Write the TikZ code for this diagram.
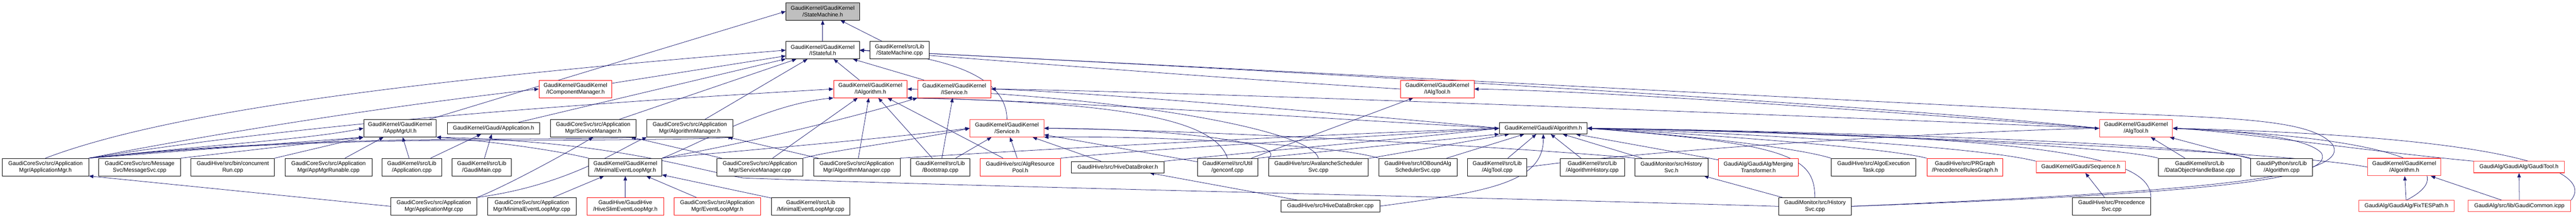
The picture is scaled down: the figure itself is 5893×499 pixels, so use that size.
\documentclass[tikz,border=0pt]{standalone}
\usepackage{fontspec}
\setmainfont{Liberation Sans}
\usetikzlibrary{arrows.meta}
\pgfdeclarelayer{bg}
\pgfsetlayers{bg,main}
\definecolor{edgec}{HTML}{191970}
\definecolor{grayfill}{HTML}{BFBFBF}
\definecolor{redA}{HTML}{FF0000}
\definecolor{redB}{HTML}{FF4040}
\tikzset{
  box/.style={draw=black, line width=1pt, rectangle, inner sep=0pt, align=center, fill=white,
              font=\fontsize{12.8}{15}\selectfont, minimum height=40pt},
  box1/.style={box, minimum height=26pt},
  rbox/.style={box, draw=redA},
  rbox1/.style={box1, draw=redA},
  pbox/.style={box, draw=redB, line width=1.3pt},
  pbox1/.style={box1, draw=redB, line width=1.3pt},
  edge/.style={draw=edgec, line width=0.9pt, -{Triangle[length=10pt,width=8pt]}},
  w/.style={minimum width=#1pt}
}
\begin{document}
\begin{tikzpicture}[x=1pt,y=-1pt]
\useasboundingbox (0,0) rectangle (5893,499);
% row 0
\node[box, w=168, fill=grayfill] (sm) at (1882,26) {GaudiKernel/GaudiKernel\\/StateMachine.h};
% row 1
\node[box, w=168] (istf) at (1882,115) {GaudiKernel/GaudiKernel\\/IStateful.h};
\node[box, w=136] (smcpp) at (2058,115) {GaudiKernel/src/Lib\\/StateMachine.cpp};
% row 2
\node[rbox, w=167] (icm) at (1316.5,204) {GaudiKernel/GaudiKernel\\/IComponentManager.h};
\node[rbox, w=168] (ialg) at (1991,204) {GaudiKernel/GaudiKernel\\/IAlgorithm.h};
\node[rbox, w=168] (isvc) at (2183,204) {GaudiKernel/GaudiKernel\\/IService.h};
\node[rbox, w=168] (ialgt) at (3288,204) {GaudiKernel/GaudiKernel\\/IAlgTool.h};
% row 3
\node[box, w=166] (iappui) at (915,294) {GaudiKernel/GaudiKernel\\/IAppMgrUI.h};
\node[box1, w=210] (gapp) at (1129,294) {GaudiKernel/Gaudi/Application.h};
\node[box, w=196] (svcmh) at (1357,294) {GaudiCoreSvc/src/Application\\Mgr/ServiceManager.h};
\node[box, w=196] (algmh) at (1578,294) {GaudiCoreSvc/src/Application\\Mgr/AlgorithmManager.h};
\node[pbox, w=169] (svch) at (2303.5,294) {GaudiKernel/GaudiKernel\\/Service.h};
\node[box1, w=201] (galgh) at (3530.5,294) {GaudiKernel/Gaudi/Algorithm.h};
\node[pbox, w=167] (algtoolh) at (4886.5,294) {GaudiKernel/GaudiKernel\\/AlgTool.h};
% row 4
\node[box, w=198] (appmgrh) at (104,383) {GaudiCoreSvc/src/Application\\Mgr/ApplicationMgr.h};
\node[box, w=187] (msgsvc) at (319.5,383) {GaudiCoreSvc/src/Message\\Svc/MessageSvc.cpp};
\node[box, w=191] (crun) at (532.5,383) {GaudiHive/src/bin/concurrent\\Run.cpp};
\node[box, w=199] (amrun) at (751.5,383) {GaudiCoreSvc/src/Application\\Mgr/AppMgrRunable.cpp};
\node[box, w=136] (appcpp) at (942,383) {GaudiKernel/src/Lib\\/Application.cpp};
\node[box, w=136] (gmain) at (1102,383) {GaudiKernel/src/Lib\\/GaudiMain.cpp};
\node[box, w=167] (melmh) at (1430.5,383) {GaudiKernel/GaudiKernel\\/MinimalEventLoopMgr.h};
\node[box, w=197] (svcmcpp) at (1738.5,383) {GaudiCoreSvc/src/Application\\Mgr/ServiceManager.cpp};
\node[box, w=198] (algmcpp) at (1960,383) {GaudiCoreSvc/src/Application\\Mgr/AlgorithmManager.cpp};
\node[box, w=136] (boot) at (2151,383) {GaudiKernel/src/Lib\\/Bootstrap.cpp};
\node[rbox, w=184] (arp) at (2334,383) {GaudiHive/src/AlgResource\\Pool.h};
\node[box1, w=212] (hdbh) at (2557,383) {GaudiHive/src/HiveDataBroker.h};
\node[box, w=138] (genconf) at (2808,383) {GaudiKernel/src/Util\\/genconf.cpp};
\node[box, w=228] (avsched) at (3016,383) {GaudiHive/src/AvalancheScheduler\\Svc.cpp};
\node[box, w=179] (iobound) at (3243.5,383) {GaudiHive/src/IOBoundAlg\\SchedulerSvc.cpp};
\node[box, w=136] (algtoolcpp) at (3425,383) {GaudiKernel/src/Lib\\/AlgTool.cpp};
\node[box, w=147] (alghist) at (3642.5,383) {GaudiKernel/src/Lib\\/AlgorithmHistory.cpp};
\node[box, w=167] (histh) at (3823.5,383) {GaudiMonitor/src/History\\Svc.h};
\node[rbox, w=183] (mergt) at (4022.5,383) {GaudiAlg/GaudiAlg/Merging\\Transformer.h};
\node[box, w=194] (aet) at (4286,383) {GaudiHive/src/AlgoExecution\\Task.cpp};
\node[rbox, w=174] (prg) at (4495,383) {GaudiHive/src/PRGraph\\/PrecedenceRulesGraph.h};
\node[pbox1, w=204] (seqh) at (4760,383) {GaudiKernel/Gaudi/Sequence.h};
\node[box, w=188] (dohb) at (5032,383) {GaudiKernel/src/Lib\\/DataObjectHandleBase.cpp};
\node[box, w=141] (gpalg) at (5219.5,383) {GaudiPython/src/Lib\\/Algorithm.cpp};
\node[pbox, w=168] (galgh2) at (5500,383) {GaudiKernel/GaudiKernel\\/Algorithm.h};
\node[pbox1, w=207] (gtool) at (5762.5,383) {GaudiAlg/GaudiAlg/GaudiTool.h};
% row 5
\node[box, w=197] (appmgrcpp) at (992.5,473) {GaudiCoreSvc/src/Application\\Mgr/ApplicationMgr.cpp};
\node[box, w=203] (melmcpp) at (1216.5,473) {GaudiCoreSvc/src/Application\\Mgr/MinimalEventLoopMgr.cpp};
\node[rbox, w=175] (hslim) at (1430.5,473) {GaudiHive/GaudiHive\\/HiveSlimEventLoopMgr.h};
\node[rbox, w=198] (elmh) at (1641,473) {GaudiCoreSvc/src/Application\\Mgr/EventLoopMgr.h};
\node[box, w=179] (melmlib) at (1854.5,473) {GaudiKernel/src/Lib\\/MinimalEventLoopMgr.cpp};
\node[box1, w=227] (hdbcpp) at (3043.5,472.5) {GaudiHive/src/HiveDataBroker.cpp};
\node[box, w=166] (histcpp) at (4152,473) {GaudiMonitor/src/History\\Svc.cpp};
\node[box, w=179] (precsvc) at (4830.5,473) {GaudiHive/src/Precedence\\Svc.cpp};
\node[pbox1, w=218] (fixtes) at (5505,472.5) {GaudiAlg/GaudiAlg/FixTESPath.h};
\node[pbox1, w=235] (gcommon) at (5763.5,472.5) {GaudiAlg/src/lib/GaudiCommon.icpp};

\begin{pgfonlayer}{bg}
\fill[white] (0,0) rectangle (5893,499);
% straight edges
\foreach \s/\t in {istf/sm, smcpp/sm, icm/istf, gapp/istf, svcmh/istf, algmh/istf, ialg/istf, isvc/istf,
  amrun/iappui, appcpp/iappui, appcpp/gapp, gmain/gapp,
  svcmcpp/svcmh, svcmcpp/ialg, algmcpp/algmh, algmcpp/ialg,
  boot/ialg, boot/isvc, boot/svch, arp/ialg, arp/svch, hdbh/svch, genconf/svch, genconf/ialgt,
  avsched/galgh, iobound/galgh, algtoolcpp/galgh, alghist/galgh, histh/galgh, mergt/galgh,
  dohb/algtoolh, gpalg/algtoolh, gcommon/gtool, gcommon/galgh2, fixtes/galgh2,
  melmcpp/melmh, hslim/melmh, elmh/melmh, melmlib/melmh, hdbcpp/hdbh, histcpp/histh, precsvc/seqh}
  {\draw[edge] (\s) -- (\t);}

\draw[edge] (iappui) -- (sm.west);
\draw[edge] (appmgrh.north) .. controls (400,250) and (1000,180) .. (istf.west);
\draw[edge] (appmgrh.north east) .. controls (600,285) and (1000,230) .. (icm.west);
\draw[edge] (appmgrh.north east) .. controls (600,300) and (1100,250) .. (ialg.west);
\draw[edge] (appmgrh.north east) -- (iappui.south west);
\draw[edge] (appmgrh.north east) .. controls (500,330) and (700,320) .. (iappui.west);
\draw[edge] (appmgrh.north east) .. controls (500,330) and (800,322) .. (1000,320) .. controls (1200,318) and (1400,318) .. (svcmh.south east);
\draw[edge] (appmgrh.north east) .. controls (500,332) and (800,324) .. (1000,322) .. controls (1300,322) and (1600,320) .. (algmh.south east);
\draw[edge] (msgsvc.north east) -- (iappui.south west);
\draw[edge] (crun.north east) -- (iappui.south west);
\draw[edge] (appmgrcpp.west) -- (appmgrh.south east);
\draw[edge] (appmgrcpp.north east) .. controls (1150,430) and (1280,360) .. (svcmh.south);
\draw[edge] (appmgrcpp.north east) .. controls (1300,425) and (1420,340) .. (algmh.south west);
\draw[edge] (svch.north) .. controls (2303,170) and (2150,128) .. (istf.east);
\draw[edge] (ialgt.west) .. controls (2800,180) and (2300,140) .. (istf.east);
\draw[edge] (algtoolh.west) .. controls (4200,230) and (2600,145) .. (istf.east);
\draw[edge] (algtoolh.west) .. controls (4300,255) and (3700,210) .. (ialgt.east);
\draw[edge] (algtoolh.west) .. controls (4000,260) and (2700,210) .. (isvc.east);
\draw[edge] (galgh.west) .. controls (3000,270) and (2400,230) .. (ialg.south east);
\draw[edge] (galgh.west) .. controls (3100,262) and (2500,212) .. (isvc.east);
\draw[edge] (melmh.north west) .. controls (1250,340) and (1100,322) .. (iappui.south east);
\draw[edge] (melmh.north east) .. controls (1600,330) and (1750,240) .. (ialg.south west);
\draw[edge] (melmh.north east) .. controls (1700,330) and (1950,270) .. (isvc.south west);
\draw[edge] (melmh.north east) .. controls (1700,345) and (2000,320) .. (svch.west);
\draw[edge] (svcmcpp.north east) .. controls (1900,345) and (2100,320) .. (svch.west);
\draw[edge] (algmcpp.north east) .. controls (2500,335) and (3100,305) .. (galgh.west);
\draw[edge] (arp.north east) .. controls (2700,335) and (3200,310) .. (galgh.west);
\draw[edge] (hdbh.north east) .. controls (2900,345) and (3250,315) .. (galgh.west);
\draw[edge] (genconf.north east) -- (galgh.south west);
\draw[edge] (genconf.north) .. controls (2780,280) and (2600,235) .. (ialg.south east);
\draw[edge] (avsched.north west) .. controls (2950,330) and (2700,295) .. (svch.east);
\draw[edge] (avsched.north) .. controls (3000,300) and (2600,225) .. (ialg.east);
\draw[edge] (iobound.north west) .. controls (3050,330) and (2600,310) .. (svch.south east);
\draw[edge] (algtoolcpp.east) .. controls (3800,340) and (4500,300) .. (algtoolh.west);
\draw[edge] (histh.north west) .. controls (3500,340) and (2800,300) .. (svch.east);
\draw[edge] (aet.north west) .. controls (4100,335) and (3800,305) .. (galgh.east);
\draw[edge] (prg.north west) .. controls (4300,335) and (3800,302) .. (galgh.east);
\draw[edge] (seqh.north west) .. controls (4500,330) and (3850,300) .. (galgh.east);
\draw[edge] (dohb.north west) .. controls (4800,325) and (3900,298) .. (galgh.east);
\draw[edge] (gpalg.north west) .. controls (5000,322) and (3900,296) .. (galgh.east);
\draw[edge] (galgh2.west) .. controls (5200,340) and (3950,298) .. (galgh.east);
\draw[edge] (gtool.north west) .. controls (5400,345) and (5100,300) .. (algtoolh.east);
\draw[edge] (fixtes.north) .. controls (5620,400) and (5560,320) .. (algtoolh.east);
\draw[edge] (gcommon.north east) .. controls (5930,400) and (5800,315) .. (algtoolh.east);
\draw[edge] (hdbcpp.east) .. controls (3400,440) and (3532,420) .. (galgh.south);
\draw[edge] (histcpp.north) .. controls (4150,360) and (4100,330) .. (galgh.east);
\draw[edge] (precsvc.north east) .. controls (4920,360) and (4700,310) .. (galgh.east);
\draw[edge] (histcpp.east) .. controls (5000,445) and (5350,415) .. (5310,350) .. controls (5270,310) and (5100,300) .. (algtoolh.east);
\draw[edge] (histcpp.east) .. controls (5000,440) and (5390,410) .. (5335,330) .. controls (5290,280) and (5150,272) .. (4900,262) .. controls (4200,230) and (2700,150) .. (istf.east);
\draw[edge] (histcpp.west) .. controls (3300,450) and (2300,430) .. (1700,408) .. controls (1560,382) and (1400,325) .. (iappui.south east);
\end{pgfonlayer}
\end{tikzpicture}
\end{document}
